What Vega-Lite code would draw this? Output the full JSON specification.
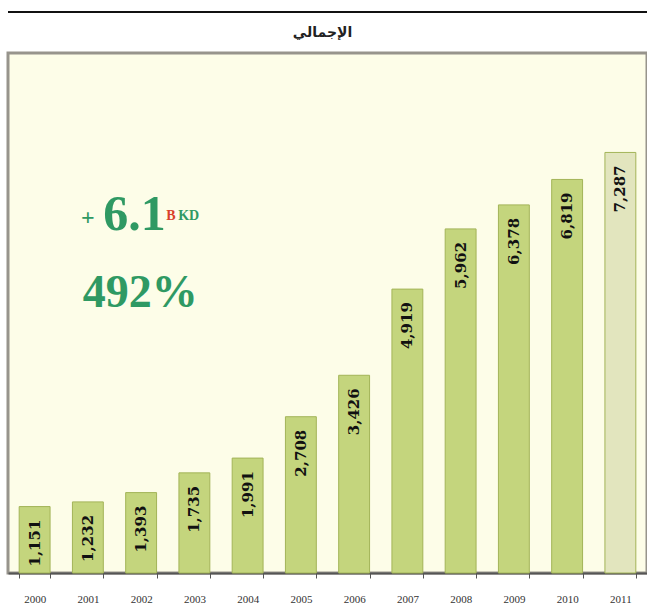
{
  "$schema": "https://vega.github.io/schema/vega-lite/v6.json",
  "width": 639,
  "height": 520,
  "autosize": {"type": "none"},
  "padding": {"left": 8, "top": 53, "right": 0, "bottom": 43},
  "background": "white",
  "config": {"view": {"stroke": "#97948c", "strokeWidth": 3, "fill": "#fdfde8"}},
  "data": {"values": [
    {"year": "2000", "value": 1151},
    {"year": "2001", "value": 1232},
    {"year": "2002", "value": 1393},
    {"year": "2003", "value": 1735},
    {"year": "2004", "value": 1991},
    {"year": "2005", "value": 2708},
    {"year": "2006", "value": 3426},
    {"year": "2007", "value": 4919},
    {"year": "2008", "value": 5962},
    {"year": "2009", "value": 6378},
    {"year": "2010", "value": 6819},
    {"year": "2011", "value": 7287}
  ]},
  "layer": [
    {
      "mark": {"type": "bar", "stroke": "#a3b458", "strokeWidth": 1},
      "encoding": {
        "x": {
          "field": "year", "type": "ordinal",
          "scale": {"paddingInner": 0.42, "paddingOuter": 0.21},
          "axis": {"title": null, "tickBand": "extent", "labelAngle": 0, "labelFont": "Liberation Serif", "labelFontSize": 11, "labelColor": "#333333", "labelPadding": 15, "tickSize": 5, "tickColor": "#555555", "domainColor": "#555555", "domainWidth": 2}
        },
        "y": {"field": "value", "type": "quantitative", "scale": {"domain": [0, 9010], "nice": false}, "axis": null},
        "color": {"condition": {"test": "datum.year === '2011'", "value": "#e2e5be"}, "value": "#c4d57d"}
      }
    },
    {
      "data": {"values": [{"top": 9720}]},
      "mark": {"type": "rule", "color": "#111111", "strokeWidth": 2, "clip": false},
      "encoding": {"y": {"field": "top", "type": "quantitative"}}
    },
    {
      "data": {"values": [{"label": "الإجمالي", "pos": 9355}]},
      "mark": {"type": "text", "align": "center", "baseline": "middle", "dx": -5, "font": "DejaVu Sans", "fontWeight": "bold", "fontSize": 14, "color": "#222222", "clip": false},
      "encoding": {
        "y": {"field": "pos", "type": "quantitative"},
        "text": {"field": "label", "type": "nominal"}
      }
    },
    {
      "mark": {"type": "text", "angle": 270, "align": "right", "baseline": "middle", "dx": -13, "font": "DejaVu Serif", "fontWeight": "bold", "fontSize": 15, "color": "#111111"},
      "encoding": {
        "x": {"field": "year", "type": "ordinal"},
        "y": {"field": "value", "type": "quantitative"},
        "text": {"field": "value", "type": "quantitative", "format": ","}
      }
    },
    {
      "data": {"values": [{"label": "+", "year": "2001", "value": 6150}]},
      "mark": {"type": "text", "align": "center", "baseline": "middle", "font": "Liberation Serif", "fontWeight": "bold", "fontSize": 24, "color": "#2f9963"},
      "encoding": {
        "x": {"field": "year", "type": "ordinal"},
        "y": {"field": "value", "type": "quantitative"},
        "text": {"field": "label", "type": "nominal"}
      }
    },
    {
      "data": {"values": [{"label": "6.1", "year": "2002", "value": 5942}]},
      "mark": {"type": "text", "align": "left", "baseline": "alphabetic", "dx": -38, "font": "Liberation Serif", "fontWeight": "bold", "fontSize": 50, "color": "#2f9963"},
      "encoding": {
        "x": {"field": "year", "type": "ordinal"},
        "y": {"field": "value", "type": "quantitative"},
        "text": {"field": "label", "type": "nominal"}
      }
    },
    {
      "data": {"values": [{"label": "B", "year": "2002", "value": 6116}]},
      "mark": {"type": "text", "align": "left", "baseline": "alphabetic", "dx": 25, "font": "Liberation Serif", "fontWeight": "bold", "fontSize": 14, "color": "#d9412b"},
      "encoding": {
        "x": {"field": "year", "type": "ordinal"},
        "y": {"field": "value", "type": "quantitative"},
        "text": {"field": "label", "type": "nominal"}
      }
    },
    {
      "data": {"values": [{"label": "KD", "year": "2002", "value": 6116}]},
      "mark": {"type": "text", "align": "left", "baseline": "alphabetic", "dx": 37, "font": "Liberation Serif", "fontWeight": "bold", "fontSize": 14, "color": "#2f9963"},
      "encoding": {
        "x": {"field": "year", "type": "ordinal"},
        "y": {"field": "value", "type": "quantitative"},
        "text": {"field": "label", "type": "nominal"}
      }
    },
    {
      "data": {"values": [{"label": "492%", "year": "2002", "value": 4608}]},
      "mark": {"type": "text", "align": "center", "baseline": "alphabetic", "dx": -1, "font": "Liberation Serif", "fontWeight": "bold", "fontSize": 46, "color": "#2f9963"},
      "encoding": {
        "x": {"field": "year", "type": "ordinal"},
        "y": {"field": "value", "type": "quantitative"},
        "text": {"field": "label", "type": "nominal"}
      }
    }
  ]
}
